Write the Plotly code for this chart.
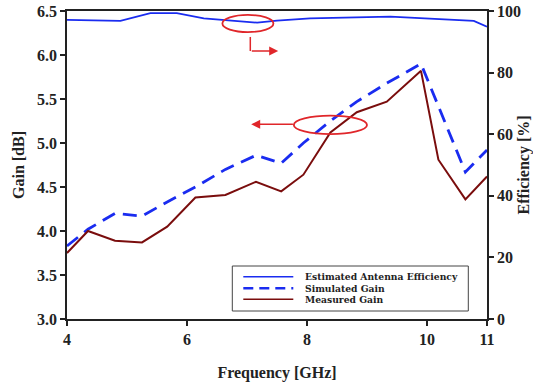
import plotly.graph_objects as go

# Data
freq_meas = [4.0, 4.35, 4.80, 5.25, 5.67, 6.14, 6.64, 7.15, 7.57, 7.94, 8.39, 8.83, 9.33, 9.90, 10.19, 10.64, 11.0]
gain_meas = [3.75, 4.00, 3.89, 3.87, 4.05, 4.38, 4.41, 4.56, 4.45, 4.64, 5.12, 5.35, 5.47, 5.82, 4.81, 4.36, 4.62]

freq_sim = [4.0, 4.35, 4.80, 5.25, 5.67, 6.14, 6.64, 7.15, 7.57, 7.94, 8.39, 8.83, 9.33, 9.90, 10.64, 11.0]
gain_sim = [3.83, 4.02, 4.20, 4.17, 4.33, 4.50, 4.70, 4.86, 4.77, 5.00, 5.25, 5.47, 5.68, 5.90, 4.67, 4.92]

freq_eff = [4.0, 4.89, 5.39, 5.83, 6.28, 7.17, 7.50, 8.05, 9.39, 10.78, 11.0]
eff = [97.1, 96.8, 99.3, 99.3, 97.6, 96.2, 96.9, 97.6, 98.2, 96.8, 94.9]

x_ticks = [4, 6, 8, 10, 11]
gain_ticks = [3.0, 3.5, 4.0, 4.5, 5.0, 5.5, 6.0, 6.5]
eff_ticks = [0, 20, 40, 60, 80, 100]

series_names = ["Estimated Antenna Efficiency", "Simulated Gain", "Measured Gain"]

FONT = "Liberation Serif"
RED = "#e0262a"
BLUE = "#1a2cf0"
MAROON = "#7a0d0d"
styles = [dict(color=BLUE, width=1.8),
          dict(color=BLUE, width=2.8, dash="14px,8px"),
          dict(color=MAROON, width=2)]

fig = go.Figure()
fig.add_trace(go.Scatter(x=freq_eff, y=eff, mode="lines", yaxis="y2",
                         name=series_names[0], line=styles[0], showlegend=False))
fig.add_trace(go.Scatter(x=freq_sim, y=gain_sim, mode="lines",
                         name=series_names[1], line=styles[1], showlegend=False))
fig.add_trace(go.Scatter(x=freq_meas, y=gain_meas, mode="lines",
                         name=series_names[2], line=styles[2], showlegend=False))

axis_common = dict(showline=True, linecolor="#222", linewidth=1.5,
                   ticks="outside", ticklen=5, tickcolor="#222", tickwidth=1.5,
                   showgrid=False, zeroline=False, automargin=False,
                   tickfont=dict(family=FONT, size=16, color="#222"))

fig.update_layout(
    width=533, height=386,
    margin=dict(l=67, r=46, t=11, b=67),
    paper_bgcolor="white", plot_bgcolor="white",
    font=dict(family=FONT, color="#222"),
    xaxis=dict(range=[4, 11], tickvals=x_ticks, ticktext=[f"<b>{v}</b>" for v in x_ticks],
               mirror=True,
               title=dict(text="<b>Frequency [GHz]</b>", font=dict(family=FONT, size=16), standoff=20),
               **axis_common),
    yaxis=dict(range=[3, 6.5], tickvals=gain_ticks, ticktext=[f"<b>{v:.1f}</b>" for v in gain_ticks],
               title=dict(text="<b>Gain [dB]</b>", font=dict(family=FONT, size=16), standoff=8),
               **axis_common),
    yaxis2=dict(range=[0, 100], overlaying="y", side="right", tickvals=eff_ticks,
                ticktext=[f"<b>{v}</b>" for v in eff_ticks],
                title=dict(text="<b>Efficiency [%]</b>", font=dict(family=FONT, size=16), standoff=16),
                **axis_common),
    showlegend=False,
)

# Hand-built compact legend (paper coordinates)
def px_x(p):
    return (p - 66.7) / 420.0

def px_y(p):
    return (319.0 - p) / 308.0

fig.add_shape(type="rect", xref="paper", yref="paper",
              x0=px_x(232), x1=px_x(468), y0=px_y(311), y1=px_y(266),
              line=dict(color="#444", width=1), fillcolor="white", layer="above")
rows = [276.7, 288.3, 299.3]
for name, st, ry in zip(series_names, styles, rows):
    lst = dict(st)
    if "dash" in lst:
        lst["dash"] = "10px,6px"
        lst["width"] = 2.4
    else:
        lst["width"] = 1.4
    fig.add_shape(type="line", xref="paper", yref="paper",
                  x0=px_x(243), x1=px_x(293), y0=px_y(ry), y1=px_y(ry),
                  line=lst, layer="above")
    fig.add_annotation(x=px_x(303), y=px_y(ry), xref="paper", yref="paper",
                       xanchor="left", yanchor="middle", showarrow=False,
                       text=f"<b>{name}</b>",
                       font=dict(family="DejaVu Serif", size=9.2, color="#222"))

# Red ellipses and arrows (annotations)
fig.add_shape(type="circle", xref="x", yref="y", x0=6.59, x1=7.44, y0=6.26, y1=6.455,
              line=dict(color=RED, width=1.8))
fig.add_shape(type="circle", xref="x", yref="y", x0=7.78, x1=9.0, y0=5.10, y1=5.31,
              line=dict(color=RED, width=1.8))
fig.add_shape(type="line", xref="x", yref="y", x0=7.055, x1=7.055, y0=6.205, y1=6.045,
              line=dict(color=RED, width=1.5))
fig.add_annotation(x=7.52, y=6.045, ax=7.055, ay=6.045, xref="x", yref="y", axref="x", ayref="y",
                   showarrow=True, arrowhead=2, arrowsize=1.2, arrowwidth=1.5, arrowcolor=RED, text="")
fig.add_annotation(x=7.07, y=5.212, ax=7.79, ay=5.212, xref="x", yref="y", axref="x", ayref="y",
                   showarrow=True, arrowhead=2, arrowsize=1.2, arrowwidth=1.5, arrowcolor=RED, text="")

fig.write_html("out.html")
